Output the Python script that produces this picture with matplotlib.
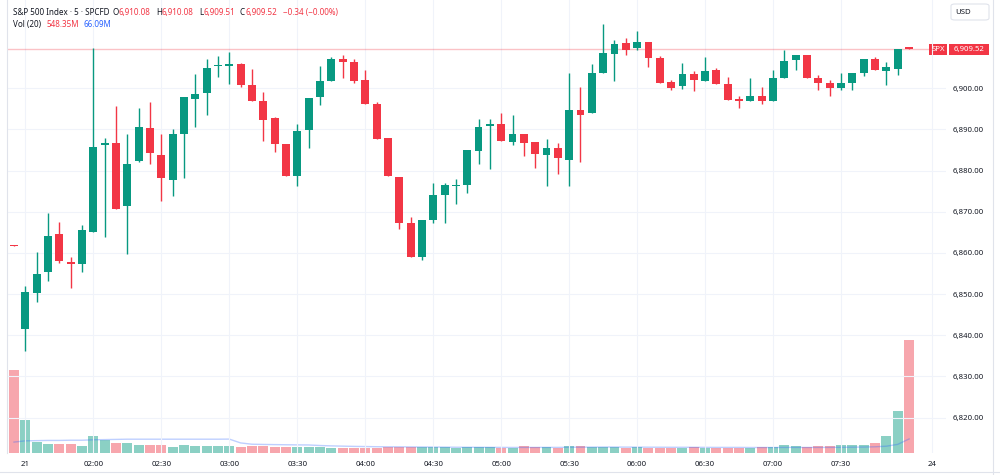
import matplotlib.pyplot as plt
import matplotlib.patches as mpatches
import numpy as np
import pandas as pd

plt.rcParams['font.family'] = ['Noto Sans', 'DejaVu Sans']

# 5-minute candles, first one is the last bar of the previous session
opens = [6862.0, 6841.5, 6850.3, 6855.3, 6864.5, 6857.8, 6857.4, 6865.0, 6886.2, 6886.6,
         6871.4, 6882.3, 6890.4, 6883.9, 6877.7, 6888.8, 6897.5, 6898.8, 6905.3, 6905.5,
         6906.0, 6900.9, 6896.9, 6892.9, 6886.5, 6878.6, 6889.8, 6897.8, 6901.7, 6907.0,
         6906.3, 6902.1, 6896.2, 6887.9, 6878.4, 6867.4, 6859.1, 6868.0, 6874.1, 6876.2,
         6876.5, 6884.8, 6890.8, 6891.3, 6887.0, 6889.0, 6887.0, 6883.9, 6885.4, 6882.7,
         6894.8, 6893.9, 6903.7, 6908.4, 6911.0, 6909.8, 6911.3, 6907.4, 6901.5, 6900.5,
         6903.5, 6901.8, 6904.4, 6901.0, 6897.3, 6896.8, 6898.1, 6896.9, 6902.6, 6906.8,
         6908.0, 6902.4, 6901.3, 6900.1, 6901.3, 6903.6, 6907.0, 6904.1, 6904.6, 6910.08]
highs = [6862.0, 6851.9, 6860.3, 6869.8, 6867.5, 6859.1, 6866.7, 6909.7, 6888.0, 6895.6,
         6888.8, 6895.3, 6896.6, 6888.8, 6890.2, 6898.0, 6903.4, 6907.0, 6907.8, 6908.7,
         6906.1, 6904.8, 6899.0, 6893.0, 6886.5, 6891.3, 6897.7, 6905.4, 6907.5, 6908.0,
         6907.2, 6904.5, 6896.7, 6887.9, 6878.4, 6868.8, 6868.0, 6877.1, 6876.9, 6878.0,
         6885.0, 6892.6, 6892.6, 6893.9, 6893.4, 6889.0, 6887.0, 6887.6, 6886.6, 6903.8,
         6900.2, 6905.8, 6915.7, 6911.7, 6912.1, 6913.9, 6911.3, 6907.8, 6901.9, 6906.1,
         6904.1, 6907.5, 6904.9, 6902.7, 6898.2, 6902.6, 6900.3, 6904.4, 6909.4, 6908.0,
         6908.0, 6903.2, 6901.9, 6903.6, 6903.6, 6907.0, 6907.6, 6906.4, 6909.6, 6910.08]
lows = [6861.7, 6836.2, 6848.1, 6853.2, 6857.5, 6851.6, 6855.4, 6865.0, 6863.9, 6870.8,
        6859.7, 6882.0, 6881.6, 6872.6, 6873.9, 6878.3, 6890.6, 6893.6, 6902.7, 6901.1,
        6900.3, 6896.8, 6887.2, 6884.5, 6878.6, 6876.3, 6885.4, 6895.9, 6901.7, 6902.6,
        6901.3, 6896.3, 6887.7, 6878.7, 6865.8, 6859.1, 6858.4, 6867.4, 6867.2, 6872.0,
        6874.6, 6881.6, 6880.3, 6887.1, 6886.2, 6883.5, 6880.7, 6876.2, 6879.1, 6876.2,
        6882.1, 6893.9, 6903.7, 6901.7, 6908.0, 6909.4, 6905.2, 6901.4, 6899.5, 6899.9,
        6899.3, 6901.8, 6901.0, 6897.1, 6895.3, 6896.8, 6896.3, 6896.9, 6902.6, 6904.5,
        6902.6, 6899.5, 6898.1, 6899.5, 6899.7, 6902.9, 6904.4, 6900.7, 6903.3, 6909.51]
closes = [6861.7, 6850.6, 6854.9, 6864.1, 6858.0, 6857.4, 6865.5, 6885.8, 6886.7, 6870.8,
          6881.6, 6890.5, 6884.3, 6878.2, 6888.8, 6897.8, 6898.7, 6905.0, 6905.7, 6905.9,
          6900.9, 6896.8, 6892.4, 6886.4, 6878.6, 6889.7, 6897.7, 6901.7, 6907.0, 6906.4,
          6901.7, 6896.3, 6887.7, 6878.7, 6867.3, 6859.1, 6868.0, 6874.1, 6876.4, 6876.6,
          6885.0, 6890.6, 6891.3, 6887.1, 6889.0, 6886.7, 6884.1, 6885.6, 6883.0, 6894.7,
          6893.6, 6903.7, 6908.6, 6910.8, 6909.4, 6911.3, 6907.3, 6901.4, 6900.1, 6903.5,
          6901.9, 6904.1, 6901.0, 6897.1, 6896.8, 6898.1, 6897.0, 6902.6, 6906.6, 6908.0,
          6902.6, 6901.4, 6900.1, 6901.4, 6903.6, 6907.0, 6904.4, 6905.2, 6909.6, 6909.52]
# volume in millions
volumes = [403, 158, 53, 45, 44, 44, 35, 81, 62, 49,
           49, 39, 39, 39, 31, 39, 35, 35, 35, 35,
           31, 32, 32, 29, 29, 31, 28, 28, 26, 23,
           26, 23, 23, 29, 29, 29, 29, 28, 29, 24,
           29, 28, 29, 23, 24, 34, 28, 31, 26, 35,
           34, 29, 29, 29, 23, 28, 24, 24, 24, 23,
           28, 23, 24, 24, 24, 24, 29, 28, 37, 34,
           29, 32, 32, 37, 37, 40, 50, 81, 202, 548.35]
# Vol MA(20) for the first bars (window still reaches into the earlier session)
vol_ma_head = [53, 59, 60, 61, 61, 62, 62, 64, 65, 66, 67, 67, 67, 67, 67, 67, 67, 67, 67]

tick_pos = [1, 7, 13, 19, 25, 31, 37, 43, 49, 55, 61, 67, 73, 81]
tick_labels = ['21', '02:00', '02:30', '03:00', '03:30', '04:00', '04:30', '05:00',
               '05:30', '06:00', '06:30', '07:00', '07:30', '24']
price_ticks = [6820, 6830, 6840, 6850, 6860, 6870, 6880, 6890, 6900]
last_price = 6909.52

UP, DOWN = '#089981', '#F23645'
TXT = '#131722'
W, H = 1000, 475


def fx(px):
    return px / W


def fy(py):
    return 1 - py / H


o, h, l, c = map(np.array, (opens, highs, lows, closes))
idx = np.arange(len(o))
up = c >= o
col = np.where(up, UP, DOWN)

vol = pd.Series(volumes)
vol_ma = vol.rolling(20).mean().to_numpy()
vol_ma[:len(vol_ma_head)] = vol_ma_head

fig = plt.figure(figsize=(10, 4.75), dpi=100)
ax = fig.add_axes([fx(7), 1 - 453 / H, fx(946 - 7), 453 / H])
axv = ax.twinx()
ax.set_zorder(axv.get_zorder() + 1)
ax.patch.set_visible(False)

# volume
axv.bar(idx, vol, width=0.88, color=np.where(up, '#8bd0c4', '#f7a6ad'), zorder=1)
axv.plot(idx, vol_ma, color='#2962FF', alpha=0.3, lw=1, zorder=2)
axv.set_ylim(0, 453 * 4.853)
axv.set_yticks([])

# candles
ax.vlines(idx, l, h, colors=col, lw=1, zorder=3)
body = np.maximum(np.abs(c - o), 0.35)
ax.bar(idx, body, bottom=np.minimum(o, c), width=0.7, color=col, zorder=4)
ax.axhline(last_price, color=DOWN, alpha=0.3, lw=1, zorder=2)

ax.set_xlim((7 - 14) / 11.33, (946 - 14) / 11.33)
ax.set_ylim(6900 - (453 - 88.3) / 4.117, 6900 + 88.3 / 4.117)
ax.set_xticks(tick_pos, tick_labels)
ax.get_xticklabels()[-1].set_fontweight('bold')
ax.set_yticks(price_ticks)
ax.yaxis.set_major_formatter('{x:,.2f}')
ax.yaxis.tick_right()
ax.tick_params(axis='y', length=0, pad=5, labelsize=5.6, labelcolor=TXT)
ax.tick_params(axis='x', length=0, pad=6, labelsize=5.6, labelcolor=TXT)
ax.grid(True, color='#f0f3fa', lw=0.8)
for a in (ax, axv):
    for s in a.spines.values():
        s.set_visible(False)
ax.spines['left'].set_visible(True)
ax.spines['left'].set_color('#e0e3eb')

# border lines
fig.add_artist(plt.Line2D([fx(993), fx(993)], [0, 1], color='#e0e3eb', lw=0.8))
fig.add_artist(plt.Line2D([0, 1], [fy(472), fy(472)], color='#e0e3eb', lw=0.8))

# header
hs = 5.8
fig.text(fx(12.7), fy(12.3), 'S&P 500 Index · 5 · SPCFD', fontsize=hs, color=TXT, va='center')
for lab, lx, val, vx in [('O', 112.7, '6,910.08', 118.5), ('H', 156.5, '6,910.08', 161.5),
                         ('L', 199, '6,909.51', 203.5), ('C', 240, '6,909.52', 245.5)]:
    fig.text(fx(lx), fy(12.3), lab, fontsize=hs, color=TXT, va='center')
    fig.text(fx(vx), fy(12.3), val, fontsize=hs, color=DOWN, va='center')
fig.text(fx(283), fy(12.3), '\u22120.34 (\u22120.00%)', fontsize=hs, color=DOWN, va='center')
fig.text(fx(12.7), fy(24.3), 'Vol (20)', fontsize=hs, color=TXT, va='center')
fig.text(fx(46.5), fy(24.3), '548.35M', fontsize=hs, color=DOWN, va='center')
fig.text(fx(83), fy(24.3), '66.09M', fontsize=hs, color='#2962FF', va='center')

# USD box
fig.add_artist(mpatches.FancyBboxPatch((fx(951), fy(20)), fx(38), 16 / H,
                                       boxstyle='round,pad=0,rounding_size=0.004',
                                       fc='white', ec='#e0e3eb', lw=0.8))
fig.text(fx(963.5), fy(12.3), 'USD', fontsize=5.6, color=TXT, va='center', ha='center')

# last price tags
py = 88.3 - (last_price - 6900) * 4.117
fig.add_artist(mpatches.Rectangle((fx(929), fy(py + 5.5)), fx(18), 11 / H, fc=DOWN, ec='none'))
fig.add_artist(mpatches.Rectangle((fx(949), fy(py + 5.5)), fx(40), 11 / H, fc=DOWN, ec='none'))
fig.text(fx(938), fy(py), 'SPX', fontsize=5.6, color='white', va='center', ha='center')
fig.text(fx(969), fy(py), f'{last_price:,.2f}', fontsize=5.6, color='white', va='center', ha='center')

fig.savefig('out.png', dpi=100)
